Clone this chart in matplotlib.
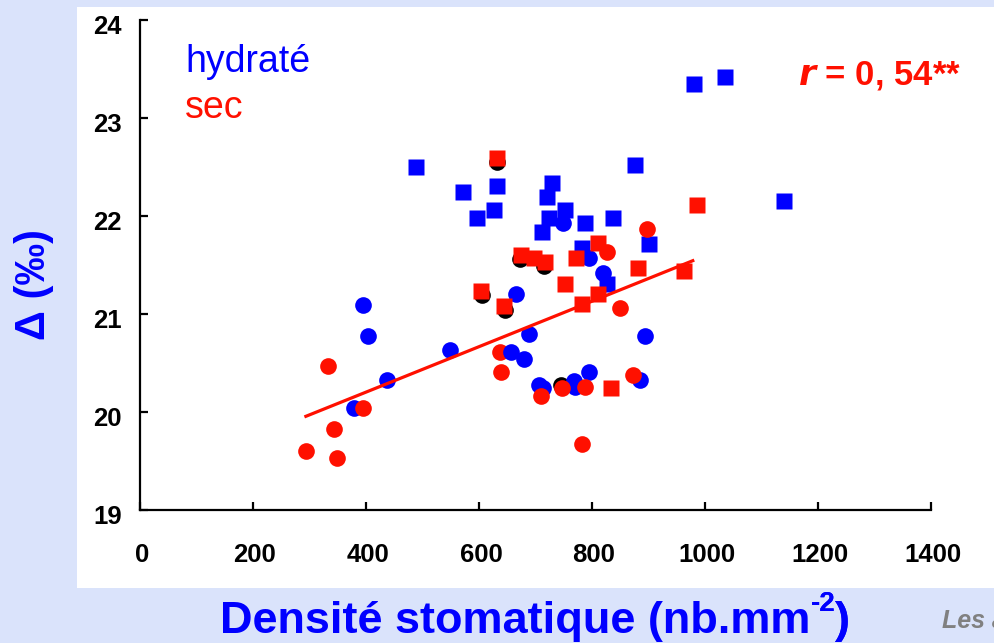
import matplotlib
matplotlib.use("Agg")
import matplotlib.pyplot as plt
from matplotlib.patches import Rectangle
from matplotlib.transforms import ScaledTranslation

plt.rcParams["font.family"] = ["Liberation Sans", "DejaVu Sans"]

# Stomatal density (nb.mm-2) and carbon isotope discrimination (per mil)
hyd_sq_x = [489, 572, 631, 597, 627, 730, 721, 752, 724, 712, 788, 838, 876, 901, 782, 826, 981, 1036, 1139]
hyd_sq_y = [22.50, 22.24, 22.31, 21.98, 22.06, 22.34, 22.19, 22.06, 21.98, 21.84, 21.93, 21.98, 22.52, 21.71, 21.67, 21.31, 23.35, 23.42, 22.15]

hyd_ci_x = [394, 403, 438, 378, 548, 657, 680, 688, 666, 707, 714, 768, 770, 794, 885, 894, 749, 795, 820]
hyd_ci_y = [21.09, 20.78, 20.33, 20.04, 20.63, 20.61, 20.54, 20.80, 21.20, 20.28, 20.25, 20.32, 20.26, 20.41, 20.33, 20.78, 21.93, 21.57, 21.42]

sec_sq_x = [631, 674, 698, 716, 771, 811, 753, 604, 645, 783, 810, 882, 962, 985, 834]
sec_sq_y = [22.59, 21.60, 21.57, 21.53, 21.57, 21.72, 21.31, 21.23, 21.08, 21.10, 21.20, 21.47, 21.44, 22.11, 20.25]

sec_ci_x = [332, 394, 343, 294, 349, 639, 709, 747, 788, 873, 782, 850, 826, 897]
sec_ci_y = [20.47, 20.04, 19.83, 19.60, 19.53, 20.41, 20.16, 20.24, 20.26, 20.38, 19.67, 21.06, 21.63, 21.87]

# sec point lying under a hydraté circle
sec_ci_low_x = [638]
sec_ci_low_y = [20.61]

other_x = [632, 605, 646, 673, 715, 746]
other_y = [22.55, 21.19, 21.04, 21.56, 21.49, 20.28]

# Linear fit drawn over the range of the data
fit_x = [291, 981]
fit_y = [19.95, 21.55]

x_ticks = [0, 200, 400, 600, 800, 1000, 1200, 1400]
y_ticks = [19, 20, 21, 22, 23, 24]

BLUE = "#0000ff"
RED = "#ff1000"
W, H = 995, 643

fig = plt.figure(figsize=(W / 100, H / 100), dpi=100)
fig.patch.set_facecolor("#dae3fb")
fig.add_artist(Rectangle((77 / W, 1 - 588 / H), 1 - 77 / W, (588 - 7) / H,
                         transform=fig.transFigure, facecolor="white",
                         edgecolor="none", zorder=-10))

ax = fig.add_axes([140 / W, 1 - 510 / H, (931 - 140) / W, (510 - 20) / H])
ax.patch.set_visible(False)

ms = 12
ax.plot(other_x, other_y, "o", ms=ms, color="black", mec="none", zorder=2)
ax.plot(sec_ci_low_x, sec_ci_low_y, "o", ms=ms, color=RED, mec="none", zorder=2.5)
ax.plot(hyd_sq_x, hyd_sq_y, "s", ms=ms, color=BLUE, mec="none", zorder=3)
ax.plot(hyd_ci_x, hyd_ci_y, "o", ms=ms, color=BLUE, mec="none", zorder=3)
ax.plot(sec_sq_x, sec_sq_y, "s", ms=ms, color=RED, mec="none", zorder=4)
ax.plot(sec_ci_x, sec_ci_y, "o", ms=ms, color=RED, mec="none", zorder=4)
ax.plot(fit_x, fit_y, "-", color=RED, lw=2.3, zorder=5, solid_capstyle="butt")

ax.set_xlim(0, 1400)
ax.set_ylim(19, 24)
ax.set_xticks(x_ticks)
ax.set_yticks(y_ticks)
for s in ("top", "right"):
    ax.spines[s].set_visible(False)
for s in ("left", "bottom"):
    ax.spines[s].set_linewidth(1.6)
ax.tick_params(direction="in", length=6, width=1.6, labelsize=18.5)
ax.tick_params(axis="x", pad=24)
ax.tick_params(axis="y", pad=13)
for lab in ax.get_xticklabels() + ax.get_yticklabels():
    lab.set_fontweight("bold")
for lab in ax.get_yticklabels():
    lab.set_transform(lab.get_transform() + ScaledTranslation(0, -0.04, fig.dpi_scale_trans))
for lab in ax.get_xticklabels():
    lab.set_transform(lab.get_transform() + ScaledTranslation(0.02, 0, fig.dpi_scale_trans))

# Legend-like labels and correlation coefficient
fig.text(185 / W, 1 - 72 / H, "hydraté", color=BLUE, fontsize=27, va="baseline", ha="left")
fig.text(185 / W, 1 - 118 / H, "sec", color=RED, fontsize=27, va="baseline", ha="left")
fig.text(798 / W, 1 - 85 / H, r"$\mathbfit{r}$ = 0, 54**", color=RED, fontsize=25,
         fontweight="bold", va="baseline", ha="left")

# Axis titles
fig.text(34 / W, 1 - 284 / H, "Δ (‰)", color=BLUE, fontsize=30, fontweight="bold",
         rotation=90, ha="center", va="center")
t1 = fig.text(220 / W, 1 - 633 / H, "Densité stomatique (nb.mm", color=BLUE, fontsize=32.5,
              fontweight="bold", ha="left", va="baseline")
sup = plt.annotate("-2", xy=(1, 0.62), xycoords=t1, color=BLUE, fontsize=20,
                   fontweight="bold", ha="left", va="bottom", annotation_clip=False)
fig.add_artist(sup)
close = plt.annotate(")", xy=(1, 0), xycoords=(sup, t1), color=BLUE, fontsize=32.5,
                     fontweight="bold", ha="left", va="bottom", annotation_clip=False)
fig.add_artist(close)

# Source note running off the right edge
fig.text(942 / W, 1 - 628 / H, "Les a", color="#808080", fontsize=18, fontweight="bold",
         fontstyle="italic", ha="left", va="baseline")

fig.savefig("out.png", dpi=100, facecolor=fig.get_facecolor())
